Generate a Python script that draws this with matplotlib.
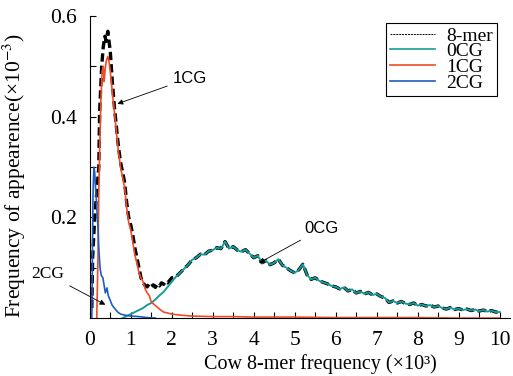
import matplotlib
matplotlib.use("Agg")
import matplotlib.pyplot as plt
from matplotlib.lines import Line2D
import numpy as np

# 0CG, sampled every 0.1 (x10^3) from 0.8 to 10.0
cg0_start = 0.8
cg0_vals = [0.000, 0.004, 0.008, 0.012, 0.016, 0.020, 0.026, 0.030, 0.037, 0.045,
            0.052, 0.062, 0.072, 0.082, 0.090, 0.098, 0.106, 0.116, 0.120, 0.127,
            0.126, 0.133, 0.135, 0.140, 0.138, 0.152, 0.138, 0.142, 0.135, 0.132,
            0.136, 0.128, 0.120, 0.124, 0.110, 0.114, 0.106, 0.110, 0.117, 0.105,
            0.100, 0.094, 0.090, 0.096, 0.107, 0.086, 0.077, 0.080, 0.074, 0.071,
            0.068, 0.064, 0.062, 0.058, 0.061, 0.054, 0.057, 0.050, 0.053, 0.048,
            0.051, 0.046, 0.048, 0.043, 0.040, 0.031, 0.034, 0.030, 0.033, 0.029,
            0.027, 0.030, 0.025, 0.027, 0.024, 0.026, 0.022, 0.024, 0.020, 0.018,
            0.021, 0.017, 0.019, 0.016, 0.018, 0.015, 0.017, 0.014, 0.016, 0.013,
            0.015, 0.012, 0.012]

cg1_x = [0.17, 0.20, 0.22, 0.24, 0.27, 0.30, 0.33, 0.35, 0.37, 0.40, 0.44, 0.47,
         0.50, 0.55, 0.60, 0.65, 0.70, 0.75, 0.80, 0.85, 0.90, 0.95, 1.00, 1.05,
         1.10, 1.15, 1.20, 1.25, 1.30, 1.35, 1.40, 1.45, 1.50, 1.60, 1.70, 1.80,
         1.90, 2.00, 2.20, 2.50, 3.00, 3.50, 4.00, 5.00, 6.00, 7.00, 8.00, 9.00, 10.0]
cg1_y = [0.000, 0.120, 0.250, 0.330, 0.430, 0.490, 0.500, 0.470, 0.490, 0.510, 0.520, 0.510,
         0.490, 0.450, 0.410, 0.370, 0.330, 0.300, 0.280, 0.260, 0.220, 0.190, 0.175, 0.150,
         0.125, 0.110, 0.090, 0.080, 0.072, 0.058, 0.050, 0.045, 0.032, 0.025, 0.018, 0.012,
         0.010, 0.008, 0.006, 0.004, 0.003, 0.003, 0.002, 0.002, 0.001, 0.001, 0.001, 0.000, 0.000]

cg2_x = [0.05, 0.08, 0.10, 0.12, 0.14, 0.17, 0.20, 0.22, 0.25, 0.28, 0.32, 0.35, 0.38,
         0.42, 0.45, 0.50, 0.55, 0.60, 0.68, 0.75, 0.85, 1.00, 1.20, 1.40, 1.60]
cg2_y = [0.000, 0.250, 0.300, 0.290, 0.260, 0.220, 0.180, 0.140, 0.100, 0.085, 0.080, 0.065, 0.050,
         0.060, 0.045, 0.035, 0.025, 0.020, 0.012, 0.008, 0.006, 0.004, 0.003, 0.001, 0.000]

# total 8-mer below 2.1; above that it follows 0CG
mer_x = [0.05, 0.07, 0.12, 0.17, 0.22, 0.24, 0.29, 0.33, 0.37, 0.40, 0.44, 0.47, 0.50,
         0.55, 0.60, 0.65, 0.70, 0.75, 0.80, 0.85, 0.90, 0.95, 1.00, 1.05, 1.10, 1.15,
         1.20, 1.25, 1.30, 1.35, 1.40, 1.45, 1.50, 1.55, 1.60, 1.65, 1.70, 1.75, 1.80,
         1.85, 1.90, 1.95, 2.00]
mer_y = [0.020, 0.120, 0.200, 0.250, 0.300, 0.410, 0.500, 0.540, 0.560, 0.550, 0.570, 0.550, 0.530,
         0.470, 0.420, 0.380, 0.340, 0.310, 0.290, 0.270, 0.230, 0.200, 0.185, 0.165, 0.140, 0.120,
         0.100, 0.080, 0.070, 0.065, 0.062, 0.068, 0.063, 0.066, 0.061, 0.068, 0.064, 0.070, 0.067,
         0.073, 0.070, 0.075, 0.080]

cg0_x = np.round(cg0_start + 0.1 * np.arange(len(cg0_vals)), 2)
cg0_y = np.array(cg0_vals)
tail = cg0_x > 2.05
mer_x_all = np.concatenate([mer_x, cg0_x[tail]])
mer_y_all = np.concatenate([mer_y, cg0_y[tail]])

c_teal = "#169c98"
c_red = "#f24a26"
c_blue = "#1f5cc0"

serif = ["Liberation Serif", "DejaVu Serif"]
sans = ["Liberation Sans", "DejaVu Sans"]
plt.rcParams["mathtext.fontset"] = "stix"

fig = plt.figure(figsize=(5.13, 3.76), dpi=100)
ax = fig.add_axes([0.175, 0.154, 0.819, 0.803])

ax.plot(mer_x_all, mer_y_all, color="black", lw=2.4, linestyle=(0, (2.5, 1.2)))
ax.plot(cg0_x, cg0_y, color=c_teal, lw=1.4)
ax.plot(cg1_x, cg1_y, color=c_red, lw=1.2)
ax.plot(cg2_x, cg2_y, color=c_blue, lw=1.2)

ax.set_xlim(0, 10.25)
ax.set_ylim(0, 0.6)
ax.spines["top"].set_visible(False)
ax.spines["right"].set_visible(False)
ax.set_xticks(range(0, 11))
ax.set_xticks(np.arange(0.5, 10.5, 1.0), minor=True)
ax.set_yticks([0.2, 0.4, 0.6])
ax.set_yticklabels(["0.2", "0.4", "0.6"])
ax.set_yticks([0.1, 0.3, 0.5], minor=True)
ax.tick_params(which="both", direction="in", length=4, width=0.8)
ax.tick_params(axis="x", which="major", pad=9)
ax.tick_params(axis="y", which="major", pad=9)
for lab in ax.get_xticklabels() + ax.get_yticklabels():
    lab.set_family(serif)
    lab.set_fontsize(15.5)

ax.set_xlabel("Cow 8-mer frequency (×10³)", family=serif, fontsize=14.5)
ax.set_ylabel("Frequency of appearence(×10$^{-3}$)", family=serif, fontsize=15.5)
ax.xaxis.set_label_coords(0.548, -0.118)
ax.yaxis.set_label_coords(-0.148, 0.47)

arrow = dict(arrowstyle="-|>", lw=0.6, color="black", mutation_scale=8)
ax.annotate("1CG", xy=(0.61, 0.424), xytext=(2.44, 0.477), ha="center", va="center",
            family=sans, fontsize=12, arrowprops=arrow)
ax.annotate("0CG", xy=(4.07, 0.107), xytext=(5.66, 0.178), ha="center", va="center",
            family=sans, fontsize=12, arrowprops=arrow)
ax.annotate("2CG", xy=(0.44, 0.024), xytext=(-1.02, 0.087), ha="center", va="center",
            family=serif, fontsize=12.5, arrowprops=arrow, annotation_clip=False)

handles = [Line2D([], [], color="black", lw=0.7, linestyle=(0, (2, 1))),
           Line2D([], [], color=c_teal, lw=1.2),
           Line2D([], [], color=c_red, lw=1.2),
           Line2D([], [], color=c_blue, lw=1.2)]
leg = ax.legend(handles, ["8-mer", "0CG", "1CG", "2CG"], loc="upper right",
                bbox_to_anchor=(0.969, 0.977), prop={"family": serif, "size": 14},
                frameon=True, fancybox=False, edgecolor="black", framealpha=1,
                handlelength=2.3, labelspacing=-0.1, borderpad=0.2, handletextpad=0.6,
                borderaxespad=0)
leg.get_frame().set_linewidth(0.8)

fig.savefig("out.png", dpi=100)
